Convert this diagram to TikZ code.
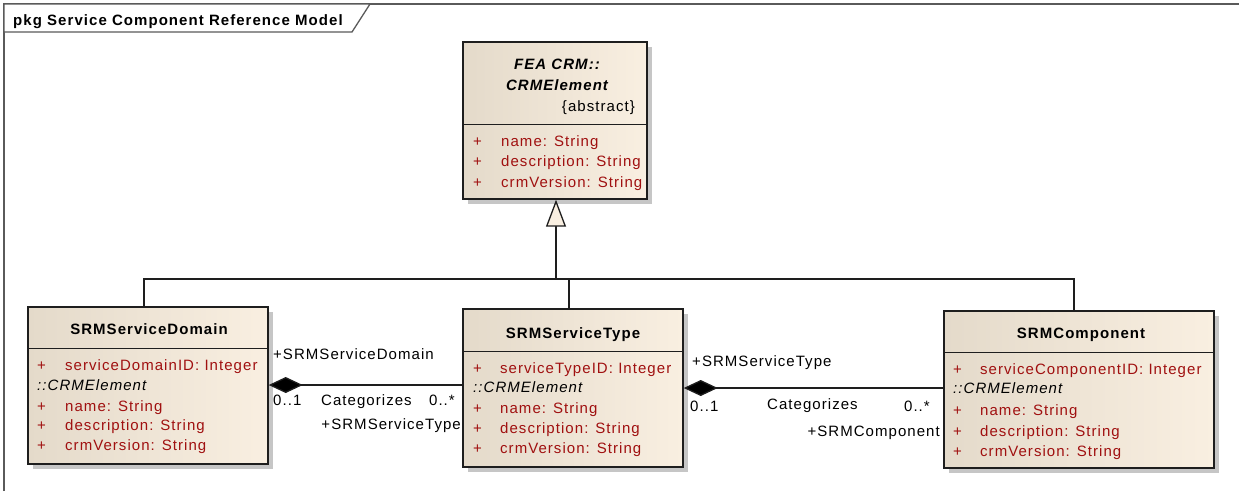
\documentclass[tikz,border=0pt]{standalone}
\usepackage{fontspec}
\setmainfont{Liberation Sans}[LetterSpace=7]
\usetikzlibrary{arrows.meta,shadows}
\definecolor{boxl}{HTML}{E4DACA}
\definecolor{boxr}{HTML}{F9EFE1}
\definecolor{attrred}{HTML}{A01010}
\definecolor{shadegray}{HTML}{C6C6C6}
\definecolor{framegray}{HTML}{5A5A5A}
\definecolor{ink}{HTML}{1E1E1E}
\tikzset{
 cls/.style={draw=ink, line width=1.4pt, left color=boxl, right color=boxr, inner sep=0pt,
   drop shadow={shadow xshift=5pt,shadow yshift=-5pt,fill=shadegray,opacity=1}},
 txt/.style={inner sep=0pt, font=\fontsize{15}{17}\selectfont, text=black},
 attrtxt/.style={txt, anchor=base west, text=attrred},
 ttl/.style={txt, anchor=base, font=\fontsize{15}{17}\selectfont\bfseries},
 ittl/.style={txt, anchor=base, font=\fontsize{15}{17}\selectfont\bfseries\itshape},
 itl/.style={txt, anchor=base west, font=\fontsize{15}{17}\selectfont\itshape},
 lbl/.style={txt, anchor=base west},
 lble/.style={txt, anchor=base east},
 conn/.style={draw=ink, line width=1.3pt},
 comp/.style={conn, {Diamond[length=34pt,width=16pt,fill=black]}-},
 gen/.style={conn, -{Triangle[length=27pt,width=20pt,fill=boxr]}},
 sepline/.style={draw=ink, line width=1.2pt},
 framepath/.style={draw=framegray, line width=1.3pt},
}
\begin{document}
\begin{tikzpicture}[x=1pt,y=-1pt]
\useasboundingbox (0,0) rectangle (1239,491);
% frame
\draw[framepath] (4,491) -- (4,4) -- (1239,4);
\draw[framepath, fill=white] (4,4) -- (370,4) -- (352,32) -- (4,32) -- cycle;
\node[txt, anchor=base west, font=\fontsize{15}{17}\selectfont\bfseries] (frametitle) at (13,25) {pkg Service Component Reference Model};

% classes
\node[cls, minimum width=184pt, minimum height=157pt] (crm) at (555,120.5) {};
\node[cls, minimum width=240pt, minimum height=157pt] (dom) at (148,385.5) {};
\node[cls, minimum width=220pt, minimum height=158pt] (typ) at (573,388) {};
\node[cls, minimum width=270pt, minimum height=157pt] (cmp) at (1079,389.5) {};

\draw[sepline] ([yshift=-83pt]crm.north west) -- ([yshift=-83pt]crm.north east);
\draw[sepline] ([yshift=-42pt]dom.north west) -- ([yshift=-42pt]dom.north east);
\draw[sepline] ([yshift=-43pt]typ.north west) -- ([yshift=-43pt]typ.north east);
\draw[sepline] ([yshift=-42pt]cmp.north west) -- ([yshift=-42pt]cmp.north east);

% CRMElement
\node[ittl] (crmt1) at (557,69) {FEA CRM::};
\node[ittl] (crmt2) at (557,90) {CRMElement};
\node[lble] (crmt3) at (635,111) {\{abstract\}};
\node[attrtxt] (crmp1) at (473,146) {+};
\node[attrtxt] (crma1) at (501,146) {name: String};
\node[attrtxt] (crmp2) at (473,166) {+};
\node[attrtxt] (crma2) at (501,166) {description: String};
\node[attrtxt] (crmp3) at (473,187) {+};
\node[attrtxt] (crma3) at (501,187) {crmVersion: String};

% SRMServiceDomain
\node[ttl] (domt) at (149,334) {SRMServiceDomain};
\node[attrtxt] (domp1) at (37,370) {+};
\node[attrtxt] (doma1) at (65,370) {serviceDomainID: Integer};
\node[itl] (domi) at (37,390) {::CRMElement};
\node[attrtxt] (domp2) at (37,411) {+};
\node[attrtxt] (doma2) at (65,411) {name: String};
\node[attrtxt] (domp3) at (37,430) {+};
\node[attrtxt] (doma3) at (65,430) {description: String};
\node[attrtxt] (domp4) at (37,450) {+};
\node[attrtxt] (doma4) at (65,450) {crmVersion: String};

% SRMServiceType
\node[ttl] (typt) at (573,338) {SRMServiceType};
\node[attrtxt] (typp1) at (473,373) {+};
\node[attrtxt] (typa1) at (500,373) {serviceTypeID: Integer};
\node[itl] (typi) at (473,392) {::CRMElement};
\node[attrtxt] (typp2) at (473,413) {+};
\node[attrtxt] (typa2) at (500,413) {name: String};
\node[attrtxt] (typp3) at (473,433) {+};
\node[attrtxt] (typa3) at (500,433) {description: String};
\node[attrtxt] (typp4) at (473,453) {+};
\node[attrtxt] (typa4) at (500,453) {crmVersion: String};

% SRMComponent
\node[ttl] (cmpt) at (1081,338) {SRMComponent};
\node[attrtxt] (cmpp1) at (953,374) {+};
\node[attrtxt] (cmpa1) at (980,374) {serviceComponentID: Integer};
\node[itl] (cmpi) at (953,393) {::CRMElement};
\node[attrtxt] (cmpp2) at (953,415) {+};
\node[attrtxt] (cmpa2) at (980,415) {name: String};
\node[attrtxt] (cmpp3) at (953,436) {+};
\node[attrtxt] (cmpa3) at (980,436) {description: String};
\node[attrtxt] (cmpp4) at (953,456) {+};
\node[attrtxt] (cmpa4) at (980,456) {crmVersion: String};

% generalization
\coordinate (j) at (556,279);
\draw[conn] ([xshift=-4pt]dom.north) |- (j);
\draw[conn] ([xshift=-5pt]cmp.north) |- (j);
\draw[gen] ([xshift=-4pt]typ.north) |- (j) -- (j |- crm.south);

% compositions
\coordinate (k1) at (0,385);
\coordinate (k2) at (0,388);
\draw[comp] (dom.east |- k1) -- (typ.west |- k1);
\draw[comp] (typ.east |- k2) -- (cmp.west |- k2);

% labels
\node[lbl] (l1a) at (273,359) {+SRMServiceDomain};
\node[lbl] (l1b) at (273,405) {0..1};
\node[lbl] (l1c) at (321,405) {Categorizes};
\node[lble] (l1d) at (455,405) {0..*};
\node[lble] (l1e) at (461,429) {+SRMServiceType};

\node[lbl] (l2a) at (692,366) {+SRMServiceType};
\node[lbl] (l2b) at (690,411) {0..1};
\node[lbl] (l2c) at (767,409) {Categorizes};
\node[lble] (l2d) at (930,411) {0..*};
\node[lble] (l2e) at (940,436) {+SRMComponent};
\end{tikzpicture}
\end{document}
